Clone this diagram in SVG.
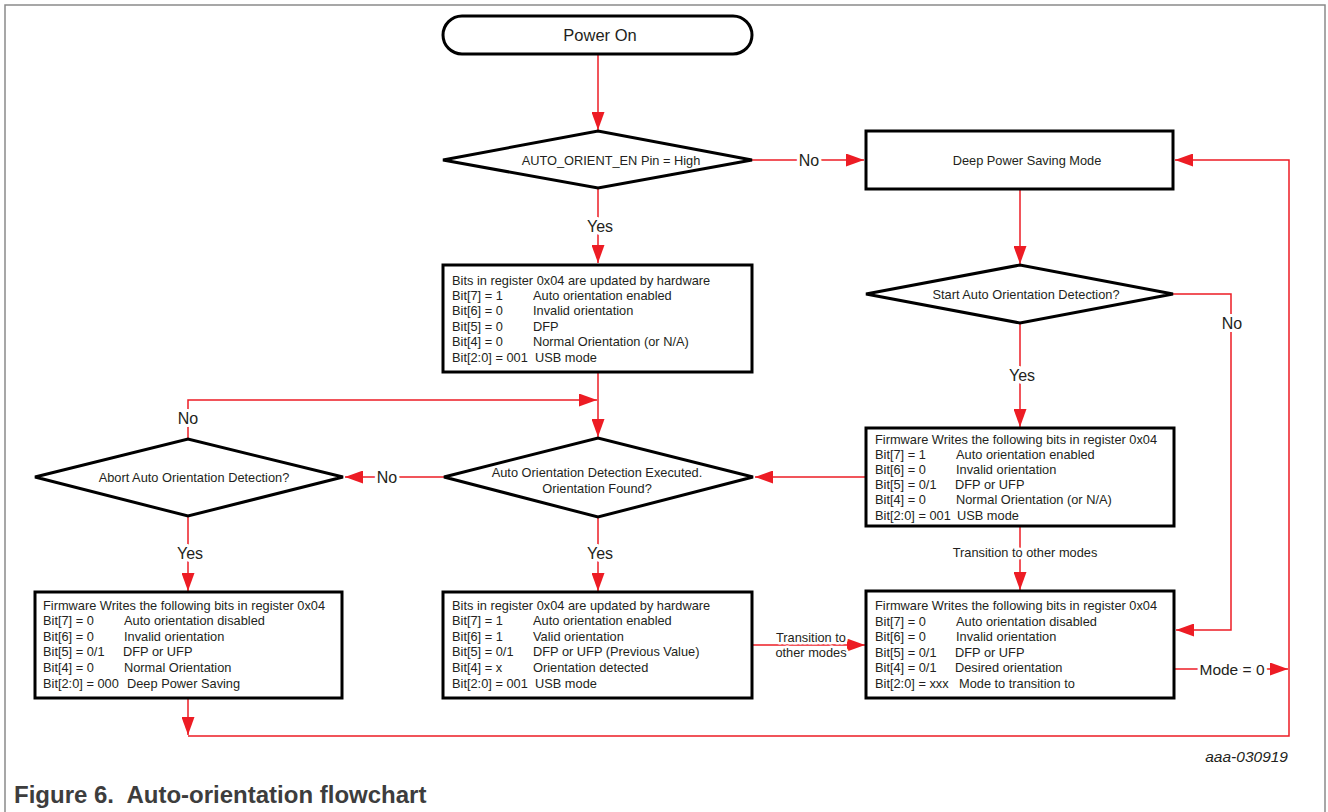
<svg xmlns="http://www.w3.org/2000/svg" width="1328" height="812" viewBox="0 0 1328 812">
<style>
.box{fill:#fff;stroke:#000;stroke-width:3}
.dia{fill:#fff;stroke:#000;stroke-width:3;stroke-linejoin:miter}
.t{font-family:"Liberation Sans",Arial,sans-serif;font-size:12.8px;fill:#231f20}
.c{text-anchor:middle}
.lbl{font-family:"Liberation Sans",Arial,sans-serif;font-size:16px;fill:#231f20;text-anchor:middle;stroke:#fff;stroke-width:6;paint-order:stroke;stroke-linejoin:round}
.lbs{font-family:"Liberation Sans",Arial,sans-serif;font-size:12.8px;fill:#231f20;text-anchor:middle;stroke:#fff;stroke-width:5;paint-order:stroke;stroke-linejoin:round}
.con{fill:none;stroke:#ed1c24;stroke-width:1.5}
.frame{stroke:#8a8a8a;stroke-width:1.5;fill:none}
</style>
<defs>
<marker id="ah" markerUnits="userSpaceOnUse" markerWidth="18" markerHeight="13" refX="18" refY="6.5" orient="auto">
<path d="M0,0 L18,6.5 L0,13 z" fill="#ed1c24"/>
</marker>
</defs>
<rect width="1328" height="812" fill="#fff"/>
<g id="frame">
<path class="frame" d="M5,812 V5 H1325 V812" stroke="#9a9a9a"/>
</g>

<g id="connectors">
<path class="con" d="M598,54 V130" marker-end="url(#ah)"/>
<path class="con" d="M752,160 H864" marker-end="url(#ah)"/>
<path class="con" d="M598,188 V263" marker-end="url(#ah)"/>
<path class="con" d="M1020,189 V264" marker-end="url(#ah)"/>
<path class="con" d="M1173,294 H1231 V630 H1176" marker-end="url(#ah)"/>
<path class="con" d="M1020,323 V427" marker-end="url(#ah)"/>
<path class="con" d="M866,477 H755" marker-end="url(#ah)"/>
<path class="con" d="M1020,526 V590" marker-end="url(#ah)"/>
<path class="con" d="M598,372 V437" marker-end="url(#ah)"/>
<path class="con" d="M444,477 H345" marker-end="url(#ah)"/>
<path class="con" d="M188,439 V400 H597" marker-end="url(#ah)"/>
<path class="con" d="M188,516 V591" marker-end="url(#ah)"/>
<path class="con" d="M598,517 V591" marker-end="url(#ah)"/>
<path class="con" d="M752,645 H865" marker-end="url(#ah)"/>
<path class="con" d="M1174,669 H1288" marker-end="url(#ah)"/>
<path class="con" d="M188,698 V735" marker-end="url(#ah)"/>
<path class="con" d="M188,736 H1289 V160 H1175" marker-end="url(#ah)"/>
<text class="lbl" x="809" y="165.5">No</text>
<text class="lbl" x="600" y="232">Yes</text>
<text class="lbl" x="1232" y="329">No</text>
<text class="lbl" x="1022" y="381">Yes</text>
<text class="lbs" x="1025" y="557">Transition to other modes</text>
<text class="lbl" x="387" y="482.5">No</text>
<text class="lbl" x="188" y="424">No</text>
<text class="lbl" x="190" y="559">Yes</text>
<text class="lbl" x="600" y="559">Yes</text>
<text class="lbs" x="811" y="641.5">Transition to</text>
<text class="lbs" x="811" y="656.5">other modes</text>
<text class="lbl" x="1232" y="674.5" style="font-size:15.5px">Mode = 0</text>
</g>

<g id="power-on">
<rect class="box" x="443" y="16" width="309" height="38" rx="19" ry="19"/>
<text class="t c" x="600" y="41" style="font-size:16.5px">Power On</text>
</g>

<g id="auto-orient-en">
<path class="dia" d="M443,160 L598,131 L752,160 L598,188 Z"/>
<text class="t c" x="611" y="164.5">AUTO_ORIENT_EN Pin = High</text>
</g>

<g id="deep-power">
<rect class="box" x="866" y="131" width="307" height="58"/>
<text class="t c" x="1027" y="164.5">Deep Power Saving Mode</text>
</g>

<g id="hw-bits-1">
<rect class="box" x="443" y="265" width="309" height="107"/>
<text class="t" x="452" y="284.5">Bits in register 0x04 are updated by hardware</text>
<text class="t" x="452" y="300">Bit[7] = 1<tspan x="533">Auto orientation enabled</tspan></text>
<text class="t" x="452" y="315.3">Bit[6] = 0<tspan x="533">Invalid orientation</tspan></text>
<text class="t" x="452" y="330.7">Bit[5] = 0<tspan x="533">DFP</tspan></text>
<text class="t" x="452" y="346.1">Bit[4] = 0<tspan x="533">Normal Orientation (or N/A)</tspan></text>
<text class="t" x="452" y="361.5">Bit[2:0] = 001<tspan x="535">USB mode</tspan></text>
</g>

<g id="start-detect">
<path class="dia" d="M866,294 L1020,265 L1173,294 L1020,323 Z"/>
<text class="t c" x="1026" y="298.5">Start Auto Orientation Detection?</text>
</g>

<g id="fw-bits-enable">
<rect class="box" x="866" y="428" width="308" height="98"/>
<text class="t" x="875" y="443.5">Firmware Writes the following bits in register 0x04</text>
<text class="t" x="875" y="458.7">Bit[7] = 1<tspan x="956">Auto orientation enabled</tspan></text>
<text class="t" x="875" y="473.9">Bit[6] = 0<tspan x="956">Invalid orientation</tspan></text>
<text class="t" x="875" y="489.1">Bit[5] = 0/1<tspan x="955">DFP or UFP</tspan></text>
<text class="t" x="875" y="504.3">Bit[4] = 0<tspan x="956">Normal Orientation (or N/A)</tspan></text>
<text class="t" x="875" y="519.5">Bit[2:0] = 001<tspan x="957">USB mode</tspan></text>
</g>

<g id="detect-executed">
<path class="dia" d="M444,477 L598,438 L753,477 L598,517 Z"/>
<text class="t c" x="597" y="476.5">Auto Orientation Detection Executed.</text>
<text class="t c" x="597" y="492.5">Orientation Found?</text>
</g>

<g id="abort-detect">
<path class="dia" d="M35,477 L188,439 L343,477 L188,516 Z"/>
<text class="t c" x="194" y="481.5">Abort Auto Orientation Detection?</text>
</g>

<g id="fw-bits-disable">
<rect class="box" x="35" y="592" width="307" height="106"/>
<text class="t" x="43" y="609.5">Firmware Writes the following bits in register 0x04</text>
<text class="t" x="43" y="625.1">Bit[7] = 0<tspan x="124">Auto orientation disabled</tspan></text>
<text class="t" x="43" y="640.7">Bit[6] = 0<tspan x="124">Invalid orientation</tspan></text>
<text class="t" x="43" y="656.3">Bit[5] = 0/1<tspan x="123">DFP or UFP</tspan></text>
<text class="t" x="43" y="671.9">Bit[4] = 0<tspan x="124">Normal Orientation</tspan></text>
<text class="t" x="43" y="687.5">Bit[2:0] = 000<tspan x="127">Deep Power Saving</tspan></text>
</g>

<g id="hw-bits-2">
<rect class="box" x="443" y="592" width="309" height="106"/>
<text class="t" x="452" y="609.5">Bits in register 0x04 are updated by hardware</text>
<text class="t" x="452" y="625.1">Bit[7] = 1<tspan x="533">Auto orientation enabled</tspan></text>
<text class="t" x="452" y="640.7">Bit[6] = 1<tspan x="533">Valid orientation</tspan></text>
<text class="t" x="452" y="656.3">Bit[5] = 0/1<tspan x="533">DFP or UFP (Previous Value)</tspan></text>
<text class="t" x="452" y="671.9">Bit[4] = x<tspan x="533">Orientation detected</tspan></text>
<text class="t" x="452" y="687.5">Bit[2:0] = 001<tspan x="535">USB mode</tspan></text>
</g>

<g id="fw-bits-transition">
<rect class="box" x="866" y="591" width="308" height="107"/>
<text class="t" x="875" y="610">Firmware Writes the following bits in register 0x04</text>
<text class="t" x="875" y="625.5">Bit[7] = 0<tspan x="956">Auto orientation disabled</tspan></text>
<text class="t" x="875" y="641">Bit[6] = 0<tspan x="956">Invalid orientation</tspan></text>
<text class="t" x="875" y="656.5">Bit[5] = 0/1<tspan x="955">DFP or UFP</tspan></text>
<text class="t" x="875" y="672">Bit[4] = 0/1<tspan x="955">Desired orientation</tspan></text>
<text class="t" x="875" y="687.5">Bit[2:0] = xxx<tspan x="959">Mode to transition to</tspan></text>
</g>

<text x="1288" y="762" style="font-family:'Liberation Sans',Arial,sans-serif;font-size:15.5px;font-style:italic;fill:#231f20;text-anchor:end">aaa-030919</text>
<text x="14" y="803" style="font-family:'Liberation Sans',Arial,sans-serif;font-size:24px;font-weight:bold;fill:#3d3d3d">Figure 6.&#160; Auto-orientation flowchart</text>
</svg>
